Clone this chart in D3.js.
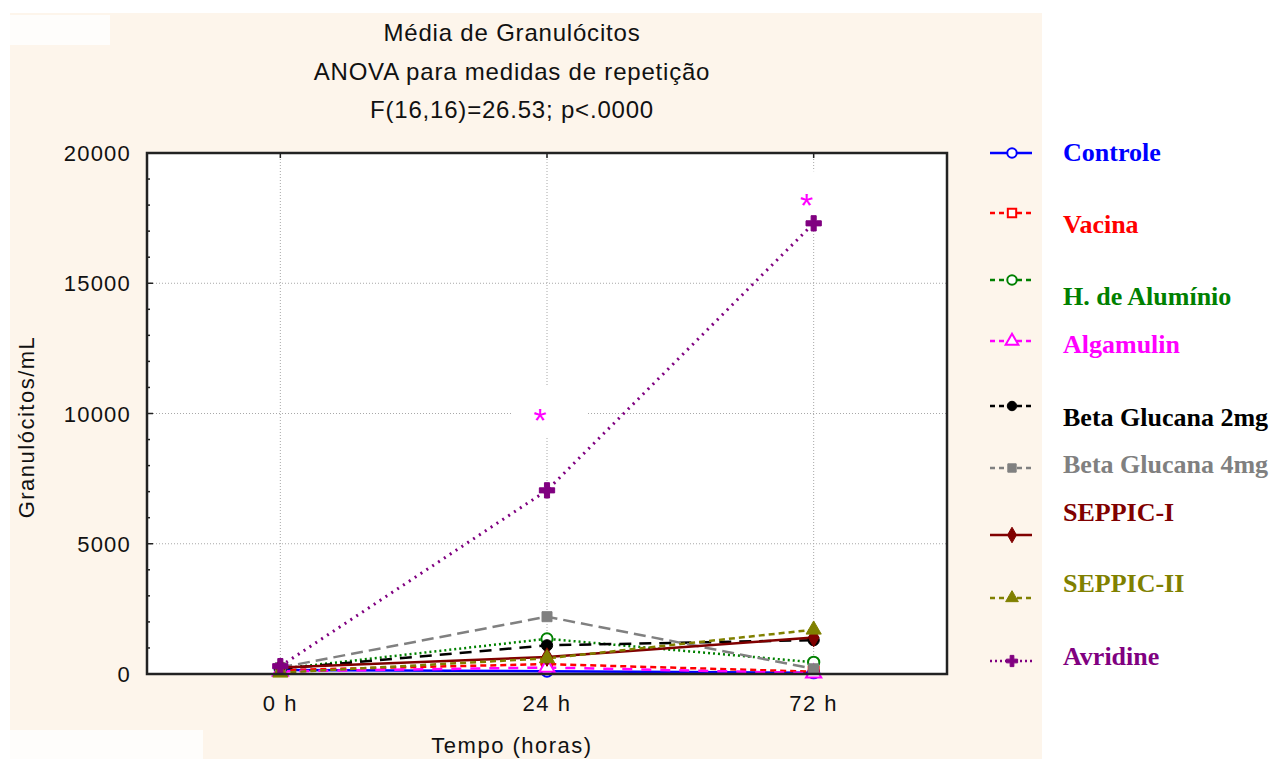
<!DOCTYPE html>
<html>
<head>
<meta charset="utf-8">
<script src="https://cdn.jsdelivr.net/npm/d3@7"></script>
<style>
  body { margin: 0; background: #ffffff; }
  svg { display: block; }
</style>
</head>
<body>
<svg id="chart" width="1276" height="759"></svg>
<script>
// time points on the x axis
const times = ['0 h', '24 h', '72 h'];

// mean granulocytes per mL, one array per group
const controle     = [150, 110, 50];
const vacina       = [150, 380, 90];
const hAluminio    = [200, 1350, 450];
const algamulin    = [100, 250, 30];
const betaGluc2    = [200, 1100, 1300];
const betaGluc4    = [250, 2200, 200];
const seppic1      = [250, 650, 1400];
const seppic2      = [50, 600, 1700];
const avridine     = [300, 7050, 17300];

const groupNames = ['Controle', 'Vacina', 'H. de Alumínio', 'Algamulin', 'Beta Glucana 2mg',
  'Beta Glucana 4mg', 'SEPPIC-I', 'SEPPIC-II', 'Avridine'];
const groupValues = [controle, vacina, hAluminio, algamulin, betaGluc2, betaGluc4, seppic1, seppic2, avridine];

const yTicks = [0, 5000, 10000, 15000, 20000];

// significance marks (time, value where the * sits)
const starTimes = ['24 h', '72 h'];
const starValues = [10050, 18300];

// styles for each group
const colors = ['#0000ff', '#ff0000', '#008000', '#ff00ff', '#000000', '#808080', '#800000', '#808000', '#800080'];
const dashes = [null, '6,4', '2,3', '10,9', '12,8', '12,6', null, '6,4', '2,5'];
const symbols = [d3.symbolCircle, d3.symbolSquare, d3.symbolCircle, d3.symbolTriangle, d3.symbolCircle,
  d3.symbolSquare, d3.symbolDiamond, d3.symbolTriangle, d3.symbolCross];
const hollow = [true, true, true, true, false, false, false, false, false];

const svg = d3.select('#chart');

// background: cream paper with white legend area
svg.append('rect').attr('x', 0).attr('y', 0).attr('width', 1276).attr('height', 759).attr('fill', '#ffffff');
svg.append('rect').attr('x', 10).attr('y', 13).attr('width', 1032).attr('height', 746).attr('fill', '#fdf5eb');
svg.append('rect').attr('x', 10).attr('y', 15).attr('width', 100).attr('height', 30).attr('fill', '#fefdfb');
svg.append('rect').attr('x', 10).attr('y', 730).attr('width', 193).attr('height', 29).attr('fill', '#fefdfb');

const pLeft = 147, pRight = 947, pTop = 153, pBottom = 674;

const x = d3.scalePoint().domain(times).range([pLeft, pRight]).padding(0.5);
const y = d3.scaleLinear().domain([0, 20000]).range([pBottom, pTop]);

// plot area
svg.append('rect')
  .attr('x', pLeft).attr('y', pTop)
  .attr('width', pRight - pLeft).attr('height', pBottom - pTop)
  .attr('fill', '#ffffff');

// grid lines
svg.append('g').selectAll('line')
  .data(times)
  .join('line')
  .attr('x1', d => x(d)).attr('x2', d => x(d))
  .attr('y1', pTop).attr('y2', pBottom)
  .attr('stroke', '#a8a8a8').attr('stroke-width', 1).attr('stroke-dasharray', '1,2');

svg.append('g').selectAll('line')
  .data(yTicks.slice(1, -1))
  .join('line')
  .attr('x1', pLeft).attr('x2', pRight)
  .attr('y1', d => y(d)).attr('y2', d => y(d))
  .attr('stroke', '#a8a8a8').attr('stroke-width', 1).attr('stroke-dasharray', '1,2');

// white boxes behind the significance marks
svg.append('g').selectAll('rect')
  .data(starTimes)
  .join('rect')
  .attr('x', d => x(d) - 34)
  .attr('y', (d, i) => y(starValues[i]) - 26)
  .attr('width', 74).attr('height', 50)
  .attr('fill', '#ffffff');

// minor ticks on the y axis, inward
svg.append('g').selectAll('line')
  .data(d3.range(0, 20001, 1000))
  .join('line')
  .attr('x1', pLeft).attr('x2', d => pLeft + (d % 5000 === 0 ? 6 : 3))
  .attr('y1', d => y(d)).attr('y2', d => y(d))
  .attr('stroke', '#222').attr('stroke-width', 1.5);

// top ticks at time points
svg.append('g').selectAll('line')
  .data(times)
  .join('line')
  .attr('x1', d => x(d)).attr('x2', d => x(d))
  .attr('y1', pTop).attr('y2', pTop + 5)
  .attr('stroke', '#222').attr('stroke-width', 1.5);

// lines
const line = d3.line()
  .x((d, i) => x(times[i]))
  .y(d => y(d));

groupValues.forEach(function(vals, g) {
  svg.append('path')
    .datum(vals)
    .attr('d', line)
    .attr('fill', 'none')
    .attr('stroke', colors[g])
    .attr('stroke-width', g === 8 ? 3 : 2.5)
    .attr('stroke-dasharray', dashes[g]);
});

// markers
function drawMarker(sel, g, size) {
  sel.attr('d', d3.symbol().type(symbols[g]).size(size))
    .attr('fill', hollow[g] ? '#ffffff' : colors[g])
    .attr('stroke', colors[g])
    .attr('stroke-width', hollow[g] ? 2 : 1);
}

groupValues.forEach(function(vals, g) {
  svg.append('g').selectAll('path')
    .data(vals)
    .join('path')
    .attr('transform', (d, i) => 'translate(' + x(times[i]) + ',' + y(d) + ')')
    .call(drawMarker, g, g === 8 ? 130 : 100);
});

// significance asterisks
svg.append('g').selectAll('text')
  .data(starTimes)
  .join('text')
  .attr('x', d => x(d) - 7)
  .attr('y', (d, i) => y(starValues[i]) + 20)
  .attr('text-anchor', 'middle')
  .attr('fill', '#ff00ff')
  .style('font', '34px "Liberation Sans", Arial, sans-serif')
  .text('*');

// frame
svg.append('rect')
  .attr('x', pLeft).attr('y', pTop)
  .attr('width', pRight - pLeft).attr('height', pBottom - pTop)
  .attr('fill', 'none')
  .attr('stroke', '#222').attr('stroke-width', 2.5);

// axis labels
const axisFont = '22px "Liberation Sans", Arial, sans-serif';

svg.append('g').selectAll('text')
  .data(yTicks)
  .join('text')
  .attr('x', 131)
  .attr('y', d => y(d) + 8)
  .attr('text-anchor', 'end')
  .attr('fill', '#111')
  .style('font', axisFont)
  .style('letter-spacing', '1.2px')
  .text(d => d);

svg.append('g').selectAll('text')
  .data(times)
  .join('text')
  .attr('x', d => x(d))
  .attr('y', 711)
  .attr('text-anchor', 'middle')
  .attr('fill', '#111')
  .style('font', axisFont)
  .style('letter-spacing', '1.5px')
  .text(d => d);

svg.append('text')
  .attr('x', 512).attr('y', 753)
  .attr('text-anchor', 'middle')
  .attr('fill', '#111')
  .style('font', axisFont)
  .style('letter-spacing', '1.5px')
  .text('Tempo (horas)');

svg.append('text')
  .attr('transform', 'translate(34,427) rotate(-90)')
  .attr('text-anchor', 'middle')
  .attr('fill', '#111')
  .style('font', axisFont)
  .style('letter-spacing', '1.5px')
  .text('Granulócitos/mL');

// titles
const titleLines = ['Média de Granulócitos', 'ANOVA para medidas de repetição', 'F(16,16)=26.53; p<.0000'];
svg.append('g').selectAll('text')
  .data(titleLines)
  .join('text')
  .attr('x', 512)
  .attr('y', (d, i) => 41 + i * 38.5)
  .attr('text-anchor', 'middle')
  .attr('fill', '#111')
  .style('font', '24px "Liberation Sans", Arial, sans-serif')
  .style('letter-spacing', '0.8px')
  .text(d => d);

// legend: sample line y and label y for each group
const legendLineY = [153, 213, 280, 341, 406, 468, 535, 598, 661];
const legendTextY = [153, 225, 297, 345, 418, 465, 513, 584, 657];

groupNames.forEach(function(name, g) {
  const ly = legendLineY[g];
  svg.append('line')
    .attr('x1', 990).attr('x2', 1032)
    .attr('y1', ly).attr('y2', ly)
    .attr('stroke', colors[g])
    .attr('stroke-width', 2.5)
    .attr('stroke-dasharray', dashes[g] ? (g === 8 ? '2,3' : '5,4') : null);
  svg.append('path')
    .attr('transform', 'translate(1012,' + ly + ')')
    .call(drawMarker, g, 70);
  svg.append('text')
    .attr('x', 1063)
    .attr('y', legendTextY[g] + 8)
    .attr('fill', colors[g])
    .style('font', 'bold 26px "Liberation Serif", "Times New Roman", serif')
    .text(name);
});
</script>
</body>
</html>
